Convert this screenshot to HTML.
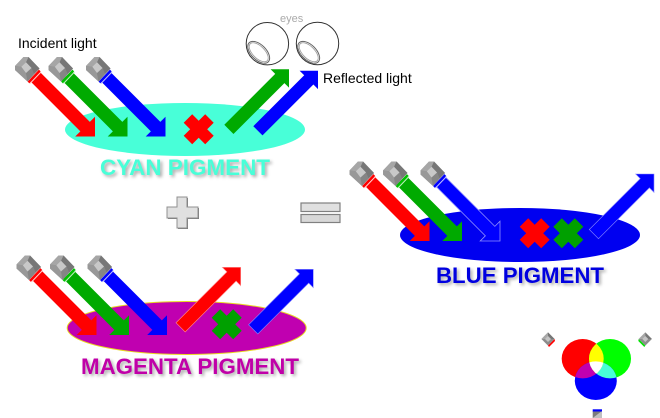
<!DOCTYPE html>
<html>
<head>
<meta charset="utf-8">
<style>
html,body{margin:0;padding:0;background:#fff;width:660px;height:418px;overflow:hidden}
svg{display:block}
text{font-family:"Liberation Sans",Arial,sans-serif}
.t{font-weight:bold;font-size:22px;filter:drop-shadow(2.5px 2.5px 1.5px #aaa)}
.l{font-size:14px;fill:#000}
</style>
</head>
<body>
<svg width="660" height="418" viewBox="0 0 660 418" xmlns="http://www.w3.org/2000/svg">
<defs>
<polygon id="ad" points="0,0 -14,14 -14,6.7 -86,6.7 -86,-6.7 -14,-6.7 -14,-14"/>
<polygon id="au" points="0,0 -13,13 -13,6.5 -85,6.5 -85,-6.5 -13,-6.5 -13,-13"/>
<polygon id="x" points="-15,-6.5 -6.5,-15 0,-8.5 6.5,-15 15,-6.5 8.5,0 15,6.5 6.5,15 0,8.5 -6.5,15 -15,6.5 -8.5,0"/>
<g id="lamp">
<polygon points="15,66 23.5,57 28.5,57 39.5,68.5 27.5,81.5 15,70" fill="#8c8c8c"/>
<polygon points="28.5,57 39.5,68.5 34,74 31.5,68 26,62.3" fill="#777"/>
<polygon points="15,66 23.5,57 28.5,57 26,62.3 21.3,66.7" fill="#a6a6a6"/>
<polygon points="15,66 21.3,66.7 26,73 27.5,81.5 15,70" fill="#989898"/>
<polygon points="26,73 31.5,68 34,74 27.5,81.5" fill="#858585"/>
<polygon points="21.3,66.7 26,62.3 31.5,68 26,73" fill="#c8c8c8"/>
</g>
<g id="mini">
<polygon points="0,-6.6 6.6,0 0,6.6 -6.6,0" fill="#8c8c8c"/>
<polygon points="0,-6.6 6.6,0 0,0" fill="#767676"/>
<polygon points="0,-6.6 -6.6,0 0,0" fill="#a8a8a8"/>
<polygon points="0,-3 3,0 0,3 -3,0" fill="#c4c4c4"/>
</g>
<clipPath id="cr"><ellipse cx="582.7" cy="358.7" rx="21" ry="19.7"/></clipPath>
<clipPath id="cg"><ellipse cx="610" cy="358.7" rx="21" ry="19.7"/></clipPath>
<clipPath id="cb"><ellipse cx="595.8" cy="380.7" rx="21" ry="19.3"/></clipPath>
<g id="lamps">
<use href="#lamp"/>
<use href="#lamp" x="33.5"/>
<use href="#lamp" x="71"/>
<path d="M28.5,82.5 L39.8,70.5" stroke="#f00" stroke-width="2.4"/>
<path d="M62,82.5 L73.3,70.5" stroke="#00c000" stroke-width="2.4"/>
<path d="M99.5,82.5 L110.8,70.5" stroke="#00f" stroke-width="2.4"/>
<path d="M30,83.5 L41,72" stroke="#ffd0d0" stroke-width="1"/>
<path d="M63.5,83.5 L74.5,72" stroke="#c0f0c0" stroke-width="1"/>
<path d="M101,83.5 L112,72" stroke="#c0c0ff" stroke-width="1"/>
</g>
</defs>

<!-- labels -->
<text class="l" x="18" y="48">Incident light</text>
<text class="l" x="323" y="83">Reflected light</text>
<text x="280" y="22" font-size="11" fill="#aaa">eyes</text>

<!-- eyes -->
<g fill="#fff" stroke="#333" stroke-width="1">
<circle cx="267.4" cy="43.7" r="21.2"/>
<circle cx="317.5" cy="43.5" r="21.2"/>
</g>
<g fill="none" stroke="#666" stroke-width="1">
<ellipse cx="258.7" cy="52.3" rx="13.5" ry="7.5" transform="rotate(45 258.7 52.3)"/>
<ellipse cx="308.7" cy="52.3" rx="13.5" ry="7.5" transform="rotate(45 308.7 52.3)"/>
</g>
<g fill="none" stroke="#999" stroke-width="0.8">
<ellipse cx="258.7" cy="52.3" rx="12" ry="6" transform="rotate(45 258.7 52.3)"/>
<ellipse cx="308.7" cy="52.3" rx="12" ry="6" transform="rotate(45 308.7 52.3)"/>
</g>

<!-- cyan panel -->
<ellipse cx="185" cy="129.5" rx="120" ry="26.5" fill="#48ffd8"/>
<use href="#x" transform="translate(198.7,129.3)" fill="#f00"/>
<use href="#au" transform="translate(289,69.3) rotate(-45)" fill="#00aa00"/>
<use href="#au" transform="translate(318,70.7) rotate(-45)" fill="#00f"/>
<text class="t" x="100" y="175" fill="#48ffd8" textLength="170" lengthAdjust="spacingAndGlyphs">CYAN PIGMENT</text>
<use href="#ad" transform="translate(95,136.5) rotate(45)" fill="#f00"/>
<use href="#ad" transform="translate(127.5,136.5) rotate(45)" fill="#00aa00"/>
<use href="#ad" transform="translate(165.5,136.5) rotate(45)" fill="#00f"/>
<use href="#lamps"/>

<!-- plus / equals -->
<polygon points="178,198 188,198 188,208 199,208 199,219 188,219 188,229 178,229 178,219 168,219 168,208 178,208" fill="#777"/>
<polygon points="177,197 187,197 187,207 198,207 198,218 187,218 187,228 177,228 177,218 167,218 167,207 177,207" fill="#e0e0e0" stroke="#909090" stroke-width="1"/>
<rect x="301" y="203" width="39" height="8.5" fill="#e0e0e0" stroke="#808080" stroke-width="1.2"/>
<rect x="301" y="214.5" width="39" height="8" fill="#d8d8d8" stroke="#808080" stroke-width="1.2"/>

<!-- blue panel -->
<ellipse cx="520" cy="235" rx="120" ry="27" fill="#0000f0"/>
<use href="#x" transform="translate(534.7,233.3)" fill="#f00"/>
<use href="#x" transform="translate(568.3,233.3)" fill="#00a000"/>
<use href="#au" transform="translate(654,174) rotate(-45)" fill="#00f" stroke="#8888ff" stroke-width="0.6"/>
<g transform="translate(334.5,104.5)">
<use href="#ad" transform="translate(95,136.5) rotate(45)" fill="#f00"/>
<use href="#ad" transform="translate(127.5,136.5) rotate(45)" fill="#00aa00"/>
<use href="#ad" transform="translate(165.5,136.5) rotate(45)" fill="#00f" stroke="#9090ff" stroke-width="0.8"/>
<use href="#lamps"/>
</g>
<text class="t" x="436" y="283" fill="#0000e0" textLength="168" lengthAdjust="spacingAndGlyphs">BLUE PIGMENT</text>

<!-- magenta panel -->
<ellipse cx="186.7" cy="328" rx="119.5" ry="26.5" fill="#c000b0" stroke="#e8d820" stroke-width="1"/>
<use href="#x" transform="translate(226.7,324.3)" fill="#00a000"/>
<use href="#au" transform="translate(240.7,267.3) rotate(-45)" fill="#f00" stroke="#ff9090" stroke-width="0.6"/>
<use href="#au" transform="translate(313.3,269.3) rotate(-45)" fill="#00f" stroke="#8888ff" stroke-width="0.6"/>
<g transform="translate(1.5,198.5)">
<use href="#ad" transform="translate(95,136.5) rotate(45)" fill="#f00"/>
<use href="#ad" transform="translate(127.5,136.5) rotate(45)" fill="#00aa00"/>
<use href="#ad" transform="translate(165.5,136.5) rotate(45)" fill="#00f"/>
<use href="#lamps"/>
</g>
<text class="t" x="81" y="374" fill="#c000a8" textLength="218" lengthAdjust="spacingAndGlyphs">MAGENTA PIGMENT</text>

<!-- venn -->
<ellipse cx="582.7" cy="358.7" rx="21" ry="19.7" fill="#f00"/>
<ellipse cx="610" cy="358.7" rx="21" ry="19.7" fill="#0f0"/>
<ellipse cx="595.8" cy="380.7" rx="21" ry="19.3" fill="#00f"/>
<g clip-path="url(#cr)"><rect x="560" y="330" width="75" height="75" fill="#c000b0" clip-path="url(#cb)"/></g>
<g clip-path="url(#cg)"><rect x="560" y="330" width="75" height="75" fill="#48ffd8" clip-path="url(#cb)"/></g>
<g clip-path="url(#cr)"><rect x="560" y="330" width="75" height="75" fill="#ff0" clip-path="url(#cg)"/></g>
<g clip-path="url(#cr)"><g clip-path="url(#cg)"><rect x="560" y="330" width="75" height="75" fill="#fff" clip-path="url(#cb)"/></g></g>

<!-- mini lamps -->
<use href="#mini" transform="translate(548,339)"/>
<polygon points="548,345.6 554.6,339 555,341 549,347" fill="#f00"/>
<use href="#mini" transform="translate(645.3,339)"/>
<polygon points="638.7,339 645.3,345.6 644.3,347 638.3,341" fill="#00e000"/>
<rect x="592.7" y="411" width="9.3" height="7" fill="#7c7c7c"/>
<polygon points="592.7,418 602,411 602,418" fill="#c0c0c0"/>
<rect x="592.7" y="409.3" width="9.3" height="2.2" fill="#00f"/>
</svg>
</body>
</html>
